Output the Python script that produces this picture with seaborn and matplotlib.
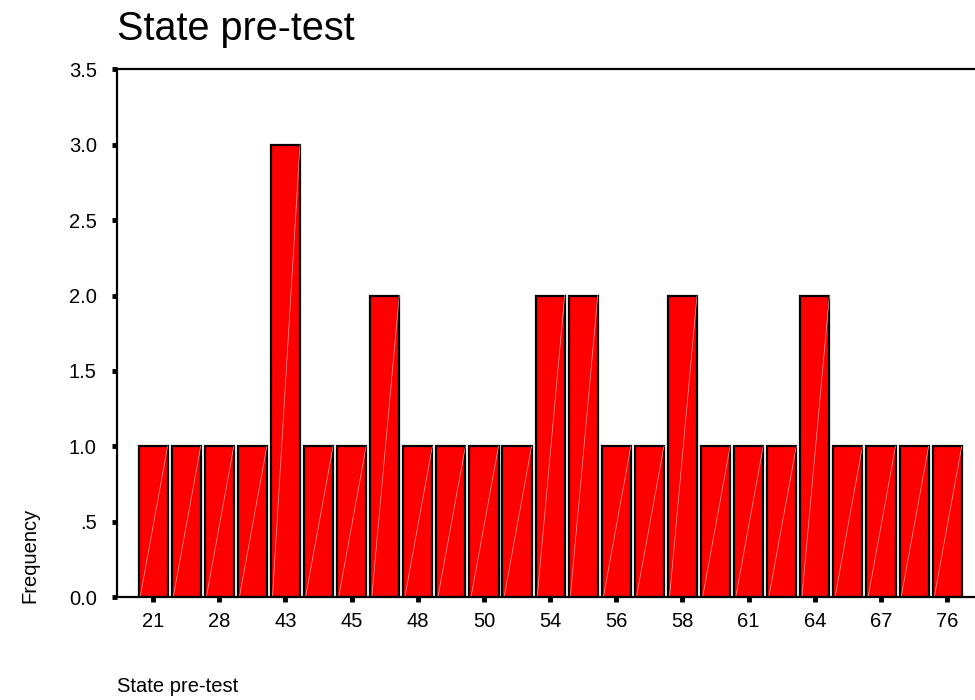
import pandas as pd
import matplotlib.pyplot as plt
import seaborn as sns

# scores (every other label is shown on the axis) and how often each occurs
scores = ['21', '25', '28', '38', '43', '44', '45', '47', '48', '49', '50', '53', '54',
          '55', '56', '57', '58', '60', '61', '63', '64', '66', '67', '70', '76']
counts = [1, 1, 1, 1, 3, 1, 1, 2, 1, 1, 1, 1, 2, 2, 1, 1, 2, 1, 1, 1, 2, 1, 1, 1, 1]
y_ticks = [0.0, 0.5, 1.0, 1.5, 2.0, 2.5, 3.0, 3.5]
y_tick_labels = ['0.0', '.5', '1.0', '1.5', '2.0', '2.5', '3.0', '3.5']

df = pd.DataFrame({'score': scores, 'freq': counts})

sns.set_style('white')
plt.rcParams['font.family'] = ['Liberation Sans', 'DejaVu Sans']
plt.rcParams['text.color'] = 'black'

fig = plt.figure(figsize=(9.75, 7), dpi=100)
ax = fig.add_axes([0.12, 0.147, 0.882, 0.754])

sns.barplot(data=df, x='score', y='freq', order=scores, color='#ff0000',
            saturation=1, width=0.88, edgecolor='black', linewidth=1.6, ax=ax)

# faint diagonal streak seen inside every bar
for p in ax.patches:
    x0, y0 = p.get_x(), p.get_y()
    ax.plot([x0 + 0.05, x0 + p.get_width()], [y0, y0 + p.get_height()],
            color='#ffa0a0', lw=0.5, zorder=p.get_zorder() + 0.1)

ax.set_xlim(-1.09, 24.9)
ax.set_ylim(0, 3.5)
ax.set_xticks(range(0, len(scores), 2))
ax.set_xticklabels(scores[::2])
ax.set_yticks(y_ticks)
ax.set_yticklabels(y_tick_labels)
ax.tick_params(axis='both', which='major', direction='out', length=3.5, width=3.5,
               color='black', labelcolor='black', labelsize=14.5,
               bottom=True, left=True)
ax.tick_params(axis='x', pad=7)
ax.tick_params(axis='y', pad=11)
ax.set_xlabel('')
ax.set_ylabel('')

for side in ['left', 'top', 'bottom']:
    ax.spines[side].set_color('black')
    ax.spines[side].set_linewidth(1.6)
ax.spines['right'].set_visible(False)

fig.text(0.12, 0.986, 'State pre-test', fontsize=28.5, va='top', ha='left')
fig.text(0.12, 0.005, 'State pre-test', fontsize=14.5, va='bottom', ha='left')
fig.text(0.031, 0.207, 'Frequency', fontsize=14.5, rotation=90, va='center', ha='center')

fig.savefig('out.png', dpi=100)
